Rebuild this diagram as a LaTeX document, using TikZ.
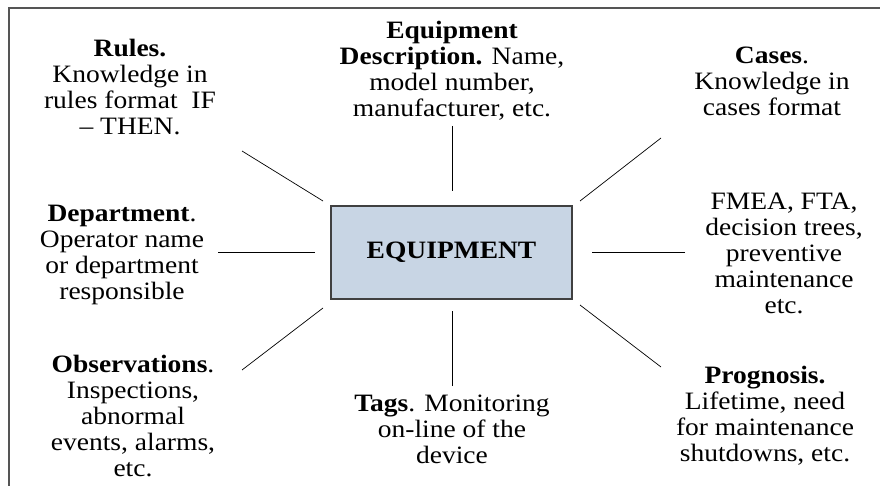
\documentclass[tikz,border=0pt]{standalone}
\usepackage{fontspec}
\setmainfont{Liberation Serif}[FakeStretch=1.1]
\usepackage{tikz}
\usetikzlibrary{positioning}
\definecolor{boxblue}{RGB}{200,213,228}
\definecolor{framegray}{RGB}{85,85,85}

\begin{document}
\begin{tikzpicture}[x=1pt, y=-1pt]
 \tikzstyle{txt}=[align=center, inner sep=0pt, font=\fontsize{25}{26}\selectfont]
 \tikzstyle{core}=[rectangle, draw=black!75, line width=1.2pt, fill=boxblue, minimum width=241pt, minimum height=93pt, font=\fontsize{25}{26}\selectfont\bfseries]
 \tikzstyle{spoke}=[draw, line width=0.7pt]

 \useasboundingbox (0,0) rectangle (880,486);
 \draw[color=framegray, line width=1.2pt] (9,486) -- (9,8) -- (880,8);

 % centre box
 \node[core] (equip) at (451.5,252.5) {EQUIPMENT};

 % upper row
 \node[txt] (rules) at (130,87) {\textbf{Rules.}\\ Knowledge in\\ rules format~ IF\\ -- THEN.};
 \node[txt] (descr) at (452,71) {\textbf{Equipment}\\ \textbf{Description.} Name,\\ model number,\\ manufacturer, etc.};
 \node[txt] (cases) at (772,81) {\textbf{Cases}.\\ Knowledge in\\ cases format};

 % middle row
 \node[txt] (dept) at (122,255) {\textbf{Department}.\\ Operator name\\ or department\\ responsible};
 \node[txt] (fmea) at (784,253) {FMEA, FTA,\\ decision trees,\\ preventive\\ maintenance\\ etc.};

 % lower row
 \node[txt] (obs) at (133,416) {\textbf{Observations}.\\ Inspections,\\ abnormal\\ events, alarms,\\ etc.};
 \node[txt] (tags) at (452,429) {\textbf{Tags}. Monitoring\\ on-line of the\\ device};
 \node[txt] (prog) at (765,416) {\textbf{Prognosis.}\\ Lifetime, need\\ for maintenance\\ shutdowns, etc.};

 % spoke ends
 \coordinate (r1) at (242,151); \coordinate (r2) at (323,201);
 \coordinate (d1) at (452,126); \coordinate (d2) at (452,191);
 \coordinate (c1) at (661,138); \coordinate (c2) at (580,201);
 \coordinate (p1) at (218,252); \coordinate (p2) at (315,252);
 \coordinate (f1) at (685,252); \coordinate (f2) at (592,252);
 \coordinate (o1) at (242,370); \coordinate (o2) at (323,308);
 \coordinate (t1) at (452,386); \coordinate (t2) at (452,311);
 \coordinate (g1) at (661,367); \coordinate (g2) at (580,305);

 \path [spoke] (r1) -- (r2);
 \path [spoke] (d1) -- (d2);
 \path [spoke] (c1) -- (c2);
 \path [spoke] (p1) -- (p2);
 \path [spoke] (f1) -- (f2);
 \path [spoke] (o1) -- (o2);
 \path [spoke] (t1) -- (t2);
 \path [spoke] (g1) -- (g2);

\end{tikzpicture}
\end{document}
